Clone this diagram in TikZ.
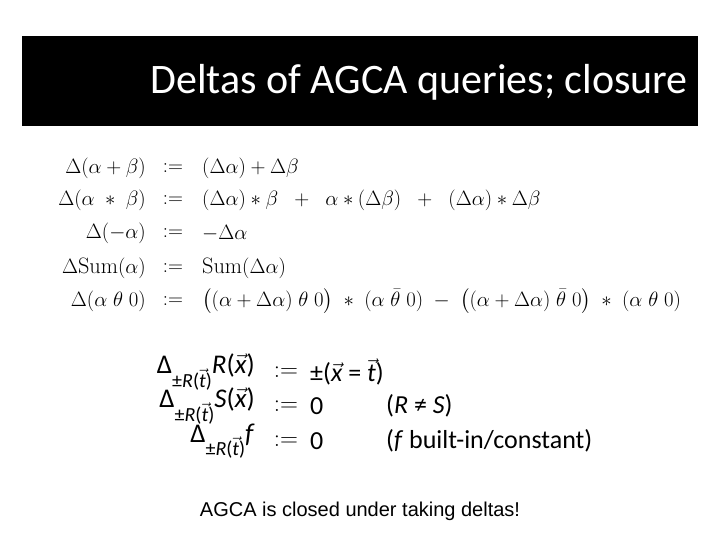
\documentclass[tikz,border=0pt]{standalone}
\usepackage{amsmath}
\usepackage{fontspec}
\newfontfamily\titlefont{Carlito}
\newfontfamily\arialfont{Liberation Sans}
\newfontfamily\cfont{Carlito}
\newcommand{\vx}[1]{$\vec{\mbox{\textit{#1}}}$}
\newcommand{\sbr}{\raisebox{-0.5em}{\fontsize{20}{21}\selectfont ±\textit{R}(\vx{t})}}
\begin{document}
\begin{tikzpicture}[x=1pt,y=-1pt,
  L/.style={anchor=east,inner sep=0pt,font=\fontsize{22.3}{26}\selectfont},
  M/.style={anchor=center,inner sep=0pt,font=\fontsize{22.3}{26}\selectfont},
  Rr/.style={anchor=west,inner sep=0pt,font=\fontsize{22.3}{26}\selectfont},
  L2/.style={anchor=east,inner sep=0pt,font=\fontsize{27}{28}\cfont},
  M2/.style={anchor=center,inner sep=0pt,font=\fontsize{23}{26}\selectfont},
  R2/.style={anchor=west,inner sep=0pt,font=\fontsize{26}{28}\cfont}]
\useasboundingbox (0,0) rectangle (720,540);
\fill[white] (0,0) rectangle (720,540);
\fill[black] (22,36) rectangle (698,126);
\node[anchor=east,text=white,inner sep=0pt,font=\fontsize{42}{46}\titlefont] (title) at (688,82) {Deltas of AGCA queries; closure};
% block 1
\node[L] (a1) at (146,168) {$\Delta(\alpha+\beta)$};
\node[M] (b1) at (173,168) {$:=$};
\node[Rr] (c1) at (202,168) {$(\Delta\alpha)+\Delta\beta$};
\node[L] (a2) at (146,200) {$\Delta(\alpha\;*\;\beta)$};
\node[M] (b2) at (173,200) {$:=$};
\node[Rr] (c2) at (202,200) {$(\Delta\alpha)*\beta\;\;+\;\;\alpha*(\Delta\beta)\;\;+\;\;(\Delta\alpha)*\Delta\beta$};
\node[L] (a3) at (146,233) {$\Delta(-\alpha)$};
\node[M] (b3) at (173,233) {$:=$};
\node[Rr] (c3) at (202,233) {$-\Delta\alpha$};
\node[L] (a4) at (146,268) {$\Delta\mathrm{Sum}(\alpha)$};
\node[M] (b4) at (173,268) {$:=$};
\node[Rr] (c4) at (202,268) {$\mathrm{Sum}(\Delta\alpha)$};
\node[L] (a5) at (146,301) {$\Delta(\alpha\;\theta\;0)$};
\node[M] (b5) at (173,301) {$:=$};
\node[Rr] (c5) at (202,301) {$\big((\alpha+\Delta\alpha)\;\theta\;0\big)\;*\;(\alpha\;\bar\theta\;0)\;-\;\big((\alpha+\Delta\alpha)\;\bar\theta\;0\big)\;*\;(\alpha\;\theta\;0)$};
% block 2
\node[L2] (d1) at (255,372) {Δ\sbr\textit{R}(\vx{x})};
\node[M2] (e1) at (286,372) {$:=$};
\node[R2] (f1) at (310,372) {±(\vx{x} = \vx{t})};
\node[L2] (d2) at (255,406) {Δ\sbr\textit{S}(\vx{x})};
\node[M2] (e2) at (286,406) {$:=$};
\node[R2] (f2) at (310,406) {0};
\node[R2] (g2) at (386,406) {(\textit{R} ≠ \textit{S})};
\node[L2] (d3) at (255,441) {Δ\sbr\textit{f}};
\node[M2] (e3) at (286,441) {$:=$};
\node[R2] (f3) at (310,441) {0};
\node[R2] (g3) at (386,441) {(\textit{f} built-in/constant)};
\node[inner sep=0pt,font=\fontsize{20}{24}\arialfont] (foot) at (360,511) {AGCA is closed under taking deltas!};
\end{tikzpicture}
\end{document}
